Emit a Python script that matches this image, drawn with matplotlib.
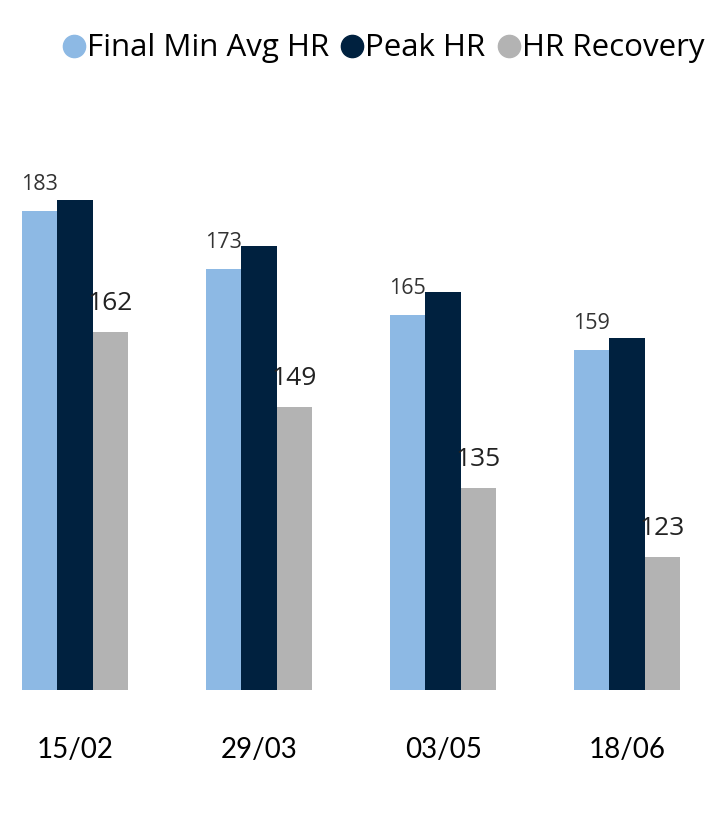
import numpy as np
import matplotlib
matplotlib.use('Agg')
import matplotlib.pyplot as plt
from matplotlib.lines import Line2D

dates = ['15/02', '29/03', '03/05', '18/06']
final_min_avg = [183, 173, 165, 159]
peak_hr = [185, 177, 169, 161]
hr_recovery = [162, 149, 135, 123]

series_names = ['Final Min Avg HR', 'Peak HR', 'HR Recovery']
colors = ['#8DB9E4', '#00213F', '#B3B3B3']

fig = plt.figure(figsize=(7.13, 8.38), dpi=100)
ax = fig.add_axes([0, 148 / 838, 1, 690 / 838])

x = np.arange(len(dates))
w = 0.193
bars_light = ax.bar(x - w, final_min_avg, w, color=colors[0])
bars_dark = ax.bar(x, peak_hr, w, color=colors[1])
bars_gray = ax.bar(x + w, hr_recovery, w, color=colors[2])

ax.set_xlim(-0.408, 3.467)
ax.set_ylim(100, 219.6)

for b, v in zip(bars_light, final_min_avg):
    ax.annotate(str(v), (b.get_x() + b.get_width() / 2, b.get_height()),
                xytext=(0, 19), textcoords='offset points', ha='center', va='center',
                fontsize=15.5, family='Open Sans', color='#333333')
for b, v in zip(bars_gray, hr_recovery):
    ax.annotate(str(v), (b.get_x() + b.get_width() / 2, b.get_height()),
                xytext=(0, 20.5), textcoords='offset points', ha='center', va='center',
                fontsize=19, family='Open Sans', color='#222222')

ax.set_xticks(x)
ax.set_xticklabels(dates, fontsize=20, family='Lato', color='black')
ax.tick_params(axis='x', length=0, pad=34)
ax.set_yticks([])
for s in ax.spines.values():
    s.set_visible(False)

handles = [Line2D([], [], marker='o', linestyle='none', markersize=16, color=c)
           for c in colors]
fig.legend(handles, series_names, loc='upper right', bbox_to_anchor=(1.006, 0.975), ncol=3,
           frameon=False, handlelength=0.6, handletextpad=0.12, columnspacing=0.45,
           prop={'family': 'Open Sans', 'size': 22.5}, borderaxespad=0)

fig.savefig('out.png', dpi=100)
